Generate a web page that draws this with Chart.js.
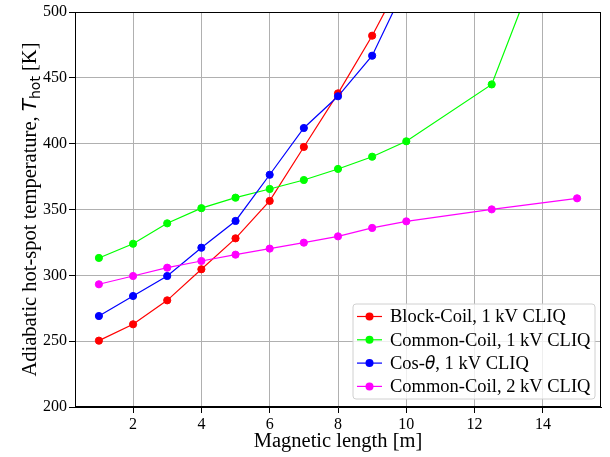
<!DOCTYPE html>
<html>
<head>
<meta charset="utf-8">
<script src="https://cdn.jsdelivr.net/npm/chart.js@4.4.1/dist/chart.umd.min.js"></script>
<style>
  html, body { margin: 0; padding: 0; background: #fff; }
  #wrap { width: 610px; height: 457px; }
</style>
</head>
<body>
<div id="wrap"><canvas id="chart" width="610" height="457"></canvas></div>
<script>
// magnetic length [m] for each series
const lengths1kV    = [1, 2, 3, 4, 5, 6, 7, 8, 9, 10];
const lengthsCommon = [1, 2, 3, 4, 5, 6, 7, 8, 9, 10, 12.5, 15];

// adiabatic hot-spot temperature [K]
const blockCoil1kV  = [250.4, 262.8, 281, 304.6, 328.1, 356.5, 397.5, 438.2, 482, 531];
const commonCoil1kV = [313.2, 324, 339.5, 351, 359, 365.6, 372.4, 380.8, 390.1, 401.8, 445, 613];
const cosTheta1kV   = [269.1, 284.3, 299.5, 321, 341.3, 376.4, 411.9, 436, 466.8, 521];
const commonCoil2kV = [293.2, 299.5, 305.8, 310.9, 315.7, 320.3, 324.8, 329.6, 336, 341, 350.1, 358.5];

const xTicks = [2, 4, 6, 8, 10, 12, 14];
const yTicks = [200, 250, 300, 350, 400, 450, 500];

const seriesNames  = ['Block-Coil, 1 kV CLIQ', 'Common-Coil, 1 kV CLIQ', 'Cos-θ, 1 kV CLIQ', 'Common-Coil, 2 kV CLIQ'];
const seriesColors = ['#ff0000', '#00ff00', '#0000ff', '#ff00ff'];

const SERIF = "'Liberation Serif', 'Times New Roman', serif";
const MATH  = "'DejaVu Sans', sans-serif";

function toPoints(xs, ys) {
  return xs.map((x, i) => ({ x, y: ys[i] }));
}

function makeSet(i, xs, ys) {
  return {
    label: seriesNames[i],
    data: toPoints(xs, ys),
    borderColor: seriesColors[i],
    backgroundColor: seriesColors[i],
    pointBackgroundColor: seriesColors[i],
    pointBorderColor: seriesColors[i],
    borderWidth: 1.2,
    pointRadius: 3.6,
    pointBorderWidth: 1,
    tension: 0,
    clip: 0,
    order: 3 - i
  };
}

// full black box around the axes + y title with math bits
const framePlugin = {
  id: 'frame',
  afterDraw(chart) {
    const { ctx, chartArea: a } = chart;
    ctx.save();
    ctx.strokeStyle = '#000';
    ctx.lineWidth = 1;
    ctx.strokeRect(a.left + 0.5, a.top + 0.5, a.right - a.left - 1, a.bottom - a.top - 1);

    // y axis title
    const parts = [
      { t: 'Adiabatic hot-spot temperature, ', f: `20.5px ${SERIF}`, dy: 0 },
      { t: 'T', f: `italic 20px ${MATH}`, dy: 0 },
      { t: 'hot', f: `14px ${MATH}`, dy: 4 },
      { t: ' [K]', f: `20.5px ${SERIF}`, dy: 0 }
    ];
    let total = 0;
    parts.forEach(p => { ctx.font = p.f; p.w = ctx.measureText(p.t).width; total += p.w; });
    ctx.translate(29, (a.top + a.bottom) / 2);
    ctx.rotate(-Math.PI / 2);
    ctx.fillStyle = '#000';
    ctx.textBaseline = 'alphabetic';
    ctx.textAlign = 'left';
    let x = -total / 2;
    parts.forEach(p => {
      ctx.font = p.f;
      ctx.fillText(p.t, x, 7 + p.dy);
      x += p.w;
    });
    ctx.restore();
  }
};

// matplotlib-style legend in the lower right corner of the axes
const legendPlugin = {
  id: 'boxLegend',
  afterDraw(chart) {
    const { ctx, chartArea: a } = chart;
    const w = 242, h = 95;
    const bx = a.right - 6 - w, by = a.bottom - 8 - h;
    ctx.save();
    ctx.beginPath();
    ctx.roundRect(bx, by, w, h, 3);
    ctx.fillStyle = 'rgba(255,255,255,0.8)';
    ctx.fill();
    ctx.strokeStyle = '#d0d0d0';
    ctx.lineWidth = 1;
    ctx.stroke();

    seriesNames.forEach((name, i) => {
      const y = by + 12.5 + i * 23.3;
      const c = seriesColors[i];
      ctx.strokeStyle = c;
      ctx.lineWidth = 1.2;
      ctx.beginPath();
      ctx.moveTo(bx + 4, y);
      ctx.lineTo(bx + 29, y);
      ctx.stroke();
      ctx.fillStyle = c;
      ctx.beginPath();
      ctx.arc(bx + 16.5, y, 4, 0, Math.PI * 2);
      ctx.fill();

      ctx.fillStyle = '#000';
      ctx.textBaseline = 'middle';
      ctx.textAlign = 'left';
      let tx = bx + 37;
      if (name.includes('θ')) {
        const segs = [
          { t: 'Cos-', f: `18.5px ${SERIF}` },
          { t: 'θ', f: `italic 17px ${MATH}` },
          { t: ', 1 kV CLIQ', f: `18.5px ${SERIF}` }
        ];
        segs.forEach(s => {
          ctx.font = s.f;
          ctx.fillText(s.t, tx, y + 1);
          tx += ctx.measureText(s.t).width;
        });
      } else {
        ctx.font = `18.5px ${SERIF}`;
        ctx.fillText(name, tx, y + 1);
      }
    });
    ctx.restore();
  }
};

new Chart(document.getElementById('chart'), {
  type: 'line',
  data: {
    datasets: [
      makeSet(0, lengths1kV, blockCoil1kV),
      makeSet(1, lengthsCommon, commonCoil1kV),
      makeSet(2, lengths1kV, cosTheta1kV),
      makeSet(3, lengthsCommon, commonCoil2kV)
    ]
  },
  options: {
    responsive: false,
    animation: false,
    events: [],
    layout: { padding: { top: 12, right: 9, left: 0, bottom: 0 } },
    plugins: {
      legend: { display: false },
      tooltip: { enabled: false }
    },
    scales: {
      x: {
        type: 'linear',
        min: 0.3,
        max: 15.7,
        afterBuildTicks: s => { s.ticks = xTicks.map(v => ({ value: v })); },
        afterFit: s => { s.height = 50; },
        grid: { color: '#b0b0b0', lineWidth: 1, tickColor: '#000', tickLength: 6 },
        border: { display: true, color: '#000', width: 1 },
        ticks: { color: '#000', padding: 2, maxRotation: 0, font: { family: SERIF, size: 16 } },
        title: {
          display: true,
          text: 'Magnetic length [m]',
          color: '#000',
          font: { family: SERIF, size: 20.5 },
          padding: { top: 0, bottom: 3 }
        }
      },
      y: {
        type: 'linear',
        min: 200,
        max: 500,
        afterBuildTicks: s => { s.ticks = yTicks.map(v => ({ value: v })); },
        afterFit: s => { s.width = 75; },
        grid: { color: '#b0b0b0', lineWidth: 1, tickColor: '#000', tickLength: 6 },
        border: { display: true, color: '#000', width: 1 },
        ticks: { color: '#000', padding: 2, font: { family: SERIF, size: 16 } }
      }
    }
  },
  plugins: [framePlugin, legendPlugin]
});
</script>
</body>
</html>
